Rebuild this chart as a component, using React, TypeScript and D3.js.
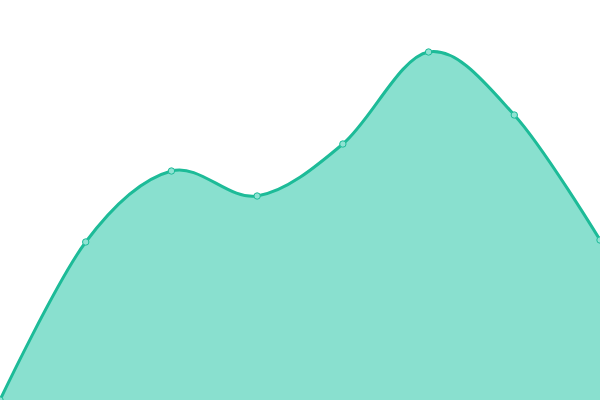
import React from 'react';
import * as d3 from 'd3';

const categories = ['A', 'B', 'C', 'D', 'E', 'F', 'G', 'H'];
const values = [0, 158, 229, 204, 256, 348, 285, 160];

const width = 600;
const height = 400;

export default function App() {
  const x = d3.scalePoint<string>().domain(categories).range([0, width]);
  const y = d3.scaleLinear().domain([0, 400]).range([height, 0]);

  const curve = d3.curveCardinal.tension(0);

  const area = d3
    .area<number>()
    .x((_, i) => x(categories[i]) ?? 0)
    .y0(height)
    .y1((d) => y(d))
    .curve(curve);

  const line = d3
    .line<number>()
    .x((_, i) => x(categories[i]) ?? 0)
    .y((d) => y(d))
    .curve(curve);

  return (
    <svg
      width={width}
      height={height}
      style={{ position: 'fixed', top: 0, left: 0, background: '#fff' }}
    >
      <path d={area(values) || ''} fill="#89e0cf" />
      <path d={line(values) || ''} fill="none" stroke="#1dbb98" strokeWidth={3} />
      {values.map((v, i) => (
        <circle
          key={i}
          cx={x(categories[i]) ?? 0}
          cy={y(v)}
          r={3.2}
          fill="#8fe3d3"
          stroke="#1dbb98"
          strokeWidth={1}
        />
      ))}
    </svg>
  );
}
